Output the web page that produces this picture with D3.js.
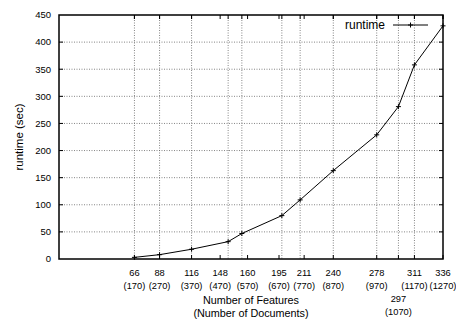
<!DOCTYPE html>
<html>
<head>
<meta charset="utf-8">
<script src="https://cdn.jsdelivr.net/npm/d3@7"></script>
<style>
  body { margin: 0; background: #fff; }
  svg { font-family: "Liberation Sans", Arial, sans-serif; }
</style>
</head>
<body>
<div id="chart"></div>
<script>
// data
const features = [66, 88, 116, 148, 160, 195, 211, 240, 278, 297, 311, 336];
const documents = [170, 270, 370, 470, 570, 670, 770, 870, 970, 1070, 1170, 1270];
const runtime = [3, 8, 18, 32, 47, 80, 109, 163, 229, 281, 358, 430];
// where the labelled tics sit (feature units), and which row they drop to
const labelTics = [66, 88, 116, 141, 165, 192.5, 214.5, 240, 278, 297, 311, 336];
const labelRow = [0, 0, 0, 0, 0, 0, 0, 0, 0, 2, 0, 0];
const yTicks = [0, 50, 100, 150, 200, 250, 300, 350, 400, 450];

const W = 456, H = 322;
const margin = { top: 15, right: 13, bottom: 63, left: 59 };
const width = W - margin.left - margin.right;
const height = H - margin.top - margin.bottom;

const svg = d3.select("#chart").append("svg")
  .attr("width", W).attr("height", H);
const g = svg.append("g")
  .attr("transform", `translate(${margin.left},${margin.top})`);

const x = d3.scaleLinear().domain([0, 336]).range([0, width]);
const y = d3.scaleLinear().domain([0, 450]).range([height, 0]);

// grid: horizontal at y tics, vertical at the data points
g.append("g").selectAll("line")
  .data(yTicks.filter(d => d > 0 && d < 450))
  .join("line")
  .attr("x1", 0).attr("x2", width)
  .attr("y1", d => y(d)).attr("y2", d => y(d))
  .attr("stroke", "#666").attr("stroke-width", 0.8)
  .attr("stroke-dasharray", "1,1.5");
g.append("g").selectAll("line")
  .data(features.filter(d => d < 336))
  .join("line")
  .attr("x1", d => x(d)).attr("x2", d => x(d))
  .attr("y1", 0).attr("y2", height)
  .attr("stroke", "#666").attr("stroke-width", 0.8)
  .attr("stroke-dasharray", "1,1.5");

// y axis tics + labels
const tl = 4;
yTicks.forEach(function (d) {
  if (d > 0 && d < 450) {
    g.append("line").attr("x1", 0).attr("x2", tl)
      .attr("y1", y(d)).attr("y2", y(d)).attr("stroke", "#000");
    g.append("line").attr("x1", width).attr("x2", width - tl)
      .attr("y1", y(d)).attr("y2", y(d)).attr("stroke", "#000");
  }
  g.append("text")
    .attr("x", -8).attr("y", y(d)).attr("dy", "0.35em")
    .attr("text-anchor", "end")
    .attr("font-size", 9.5)
    .text(d);
});

// x tics: labelled ones (bottom + mirrored top)
labelTics.forEach(function (d, i) {
  g.append("line").attr("x1", x(d)).attr("x2", x(d))
    .attr("y1", height).attr("y2", height - tl).attr("stroke", "#000");
  g.append("line").attr("x1", x(d)).attr("x2", x(d))
    .attr("y1", 0).attr("y2", tl).attr("stroke", "#000");
  const t = g.append("text")
    .attr("text-anchor", "middle")
    .attr("font-size", 9.3);
  t.append("tspan").attr("x", x(d))
    .attr("y", height + 17 + labelRow[i] * 13)
    .text(features[i]);
  t.append("tspan").attr("x", x(d))
    .attr("y", height + 29.5 + labelRow[i] * 13)
    .text(`(${documents[i]})`);
});
// tics at the data points on the top edge
features.forEach(function (d) {
  g.append("line").attr("x1", x(d)).attr("x2", x(d))
    .attr("y1", 0).attr("y2", tl).attr("stroke", "#000");
});

// border
g.append("rect")
  .attr("width", width).attr("height", height)
  .attr("fill", "none").attr("stroke", "#000").attr("stroke-width", 1.5);

// the line
const pts = features.map((f, i) => [f, runtime[i]]);
g.append("path")
  .datum(pts)
  .attr("fill", "none").attr("stroke", "#000").attr("stroke-width", 1)
  .attr("d", d3.line().x(d => x(d[0])).y(d => y(d[1])));

function plus(sel, cx, cy) {
  sel.append("path")
    .attr("d", `M${cx - 2.5},${cy}H${cx + 2.5}M${cx},${cy - 2.5}V${cy + 2.5}`)
    .attr("stroke", "#000").attr("stroke-width", 1);
}
pts.forEach(p => plus(g, x(p[0]), y(p[1])));

// legend
g.append("text")
  .attr("x", 326).attr("y", 10).attr("dy", "0.35em")
  .attr("text-anchor", "end")
  .attr("font-size", 12)
  .text("runtime");
g.append("line")
  .attr("x1", 334).attr("x2", 369).attr("y1", 10).attr("y2", 10)
  .attr("stroke", "#000");
plus(g, 351.5, 10);

// axis titles
svg.append("text")
  .attr("transform", `translate(19,${margin.top + height / 2}) rotate(-90)`)
  .attr("text-anchor", "middle")
  .attr("dy", "0.35em")
  .attr("font-size", 11.5)
  .text("runtime (sec)");
const xt = svg.append("text")
  .attr("text-anchor", "middle")
  .attr("font-size", 10.8);
xt.append("tspan").attr("x", 251).attr("y", 304).text("Number of Features");
xt.append("tspan").attr("x", 251).attr("y", 317).text("(Number of Documents)");
</script>
</body>
</html>
